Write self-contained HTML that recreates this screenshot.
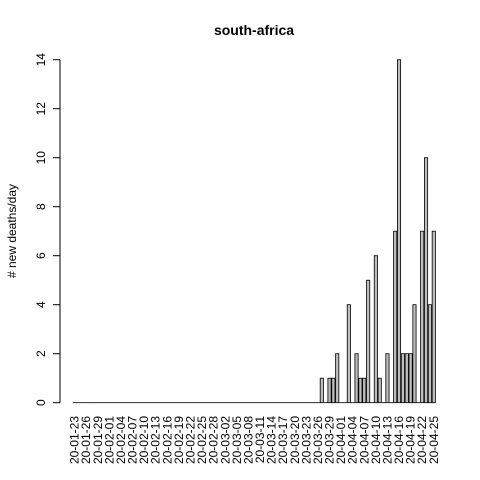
<!DOCTYPE html>
<html><head><meta charset="utf-8"><style>
body{margin:0;background:#fff}
svg{display:block;font-family:"Liberation Sans",sans-serif}
</style></head><body>
<svg id="c" width="480" height="480">
<text x="254" y="35" text-anchor="middle" font-size="14" font-weight="bold">south-africa</text>
<text transform="translate(16,231) rotate(-90)" text-anchor="middle" font-size="12"># new deaths/day</text>
<g id="bars"></g>
<g id="yaxis"></g>
<g id="xaxis"></g>
</svg>
<script>
const values=[0,0,0,0,0,0,0,0,0,0,0,0,0,0,0,0,0,0,0,0,0,0,0,0,0,0,0,0,0,0,0,0,0,0,0,0,0,0,0,0,0,0,0,0,0,0,0,0,0,0,0,0,0,0,0,0,0,0,0,0,0,0,0,0,
1,0,1,1,2,0,0,4,0,2,1,1,5,0,6,1,0,2,0,7,14,2,2,2,4,0,7,10,4,7];
const yTicks=[0,2,4,6,8,10,12,14];
const startDate=[2020,0,23];
const NS="http://www.w3.org/2000/svg";
const y=v=>402.7-v*24.5;
const x=u=>72.4+u*3.218;
function mk(t,a,p){const e=document.createElementNS(NS,t);for(const k in a)e.setAttribute(k,a[k]);p.appendChild(e);return e;}
const bars=document.getElementById('bars'),ya=document.getElementById('yaxis'),xa=document.getElementById('xaxis');
values.forEach((v,i)=>{
  const l=x(0.2+1.2*i);
  const r=mk('rect',{x:l,y:y(v),width:3.218,height:Math.max(y(0)-y(v),0.01),fill:'#bebebe',stroke:'#000','stroke-width':0.8},bars);
  
  
});
mk('line',{x1:60,x2:60,y1:y(0),y2:y(yTicks[yTicks.length-1]),stroke:'#000'},ya);
yTicks.forEach(t=>{
  mk('line',{x1:53,x2:60,y1:y(t),y2:y(t),stroke:'#000'},ya);
  const tx=mk('text',{transform:`translate(45,${y(t)}) rotate(-90)`,'text-anchor':'middle','font-size':12},ya);
  tx.textContent=t;
  
  
});
const pad=n=>String(n).padStart(2,'0');
values.forEach((v,i)=>{
  if(i%3)return;
  const d=new Date(startDate[0],startDate[1],startDate[2]+i);
  const lab=`${String(d.getFullYear()).slice(2)}-${pad(d.getMonth()+1)}-${pad(d.getDate())}`;
  const cx=x(0.7+1.2*i);
  const tx=mk('text',{transform:`translate(${cx+4},416) rotate(-90)`,'text-anchor':'end','font-size':12},xa);
  tx.textContent=lab;
  
  
});
</script>
</body></html>
